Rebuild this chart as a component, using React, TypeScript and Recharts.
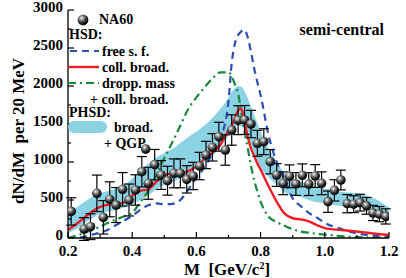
import React from "react";
import { ComposedChart, Area, Line, Scatter, ErrorBar, XAxis, YAxis } from "recharts";

document.body.style.margin = "0";

const FONT = '"Liberation Serif", "Times New Roman", serif';

// theory curves, sampled on a mass grid (GeV/c^2)
const massGrid = [
  0.2, 0.225, 0.25, 0.275, 0.3, 0.325, 0.35, 0.375, 0.4, 0.425, 0.45, 0.475, 0.5, 0.525, 0.55, 0.575, 0.6,
  0.625, 0.65, 0.675, 0.7, 0.71, 0.72, 0.73, 0.74, 0.75, 0.76, 0.77, 0.78, 0.79, 0.8, 0.825, 0.85, 0.875,
  0.9, 0.925, 0.95, 0.975, 1.0, 1.05, 1.1, 1.15, 1.2,
];
// HSD free spectral function
const freeSF = [
  0, 0, 15, 45, 70, 110, 170, 230, 290, 370, 430, 455, 445, 450, 500, 640, 790, 930, 1110, 1310, 1800,
  2300, 2560, 2670, 2720, 2740, 2640, 2450, 2230, 2050, 1880, 1350, 1000, 770, 520, 420, 330, 270, 200,
  120, 60, 30, 15,
];
// HSD collisional broadening
const collBroad = [
  105, 180, 265, 350, 410, 440, 450, 470, 560, 620, 640, 740, 820, 850, 852, 880, 940, 1040, 1120, 1230,
  1420, 1480, 1580, 1680, 1700, 1520, 1330, 1180, 1080, 980, 900, 680, 480, 320, 260, 245, 220, 170, 130,
  105, 85, 60, 40,
];
// HSD dropping mass + coll. broad.
const droppMass = [
  0, 30, 65, 105, 150, 200, 245, 285, 330, 470, 620, 830, 1050, 1260, 1480, 1700, 1850, 1980, 2100, 2180,
  2180, 2130, 2020, 1900, 1650, 1400, 1180, 950, 760, 610, 480, 280, 210, 160, 115, 85, 70, 55, 45, 25,
  12, 5, 0,
];
// PHSD band (broad. + QGP)
const phsdLow = [
  60, 120, 190, 260, 320, 350, 370, 400, 440, 500, 560, 640, 700, 740, 790, 850, 920, 990, 1080, 1200,
  1350, 1410, 1460, 1480, 1470, 1420, 1340, 1230, 1120, 1020, 930, 800, 700, 600, 560, 540, 500, 470,
  460, 420, 410, 330, 240,
];
const phsdHigh = [
  330, 400, 470, 540, 590, 620, 650, 700, 780, 880, 980, 1060, 1120, 1170, 1250, 1330, 1400, 1480, 1580,
  1700, 1850, 1920, 1970, 2000, 1990, 1930, 1840, 1730, 1620, 1510, 1400, 1180, 1000, 850, 790, 740, 700,
  670, 650, 610, 590, 530, 400,
];

// NA60 data
const na60Mass = [
  0.21, 0.23, 0.25, 0.27, 0.29, 0.31, 0.33, 0.35, 0.37, 0.39, 0.41, 0.43, 0.45, 0.47, 0.49, 0.51, 0.53,
  0.55, 0.57, 0.59, 0.61, 0.63, 0.65, 0.67, 0.69, 0.71, 0.73, 0.75, 0.77, 0.79, 0.81, 0.83, 0.85, 0.87,
  0.89, 0.91, 0.93, 0.95, 0.97, 0.99, 1.01, 1.03, 1.05, 1.07, 1.09, 1.11, 1.13, 1.15, 1.17, 1.19,
];
const na60Yield = [
  350, null, 118, 149, 588, 272, 509, 434, 641, 500, 632, 872, 720, 965, 829, 754, 851, 851, 772, 816,
  947, 1092, 1193, 1333, 1158, 1421, 1550, 1553, 1500, 1246, 1267, 1004, 829, 720, 812, 711, 825, 709,
  816, 720, 478, 627, 763, 452, 445, 465, 423, 329, 314, 284,
];
const na60Err = [
  180, 0, 150, 170, 240, 220, 230, 230, 220, 210, 200, 200, 210, 200, 190, 190, 190, 190, 180, 180, 180,
  180, 180, 190, 200, 200, 190, 190, 180, 170, 170, 160, 150, 150, 150, 150, 150, 150, 150, 150, 140, 140,
  130, 120, 110, 110, 110, 100, 100, 100,
];
const strayMass = [0.442];
const strayYield = [1170];

const xTicks = [0.2, 0.3, 0.4, 0.5, 0.6, 0.7, 0.8, 0.9, 1.0, 1.1, 1.2];
const yTicks = [0, 250, 500, 750, 1000, 1250, 1500, 1750, 2000, 2250, 2500, 2750, 3000];

const BLUE = "#2c4fb0";
const RED = "#ee1c25";
const GREEN = "#16893a";
const BAND = "#8ad2e4";

const curves = massGrid.map((m, i) => ({
  m,
  free: freeSF[i],
  coll: collBroad[i],
  dropp: droppMass[i],
  band: [phsdLow[i], phsdHigh[i]],
}));

const points = na60Mass
  .map((m, i) => ({ m, v: na60Yield[i], err: na60Err[i] }))
  .filter((p) => p.v !== null);
const stray = strayMass.map((m, i) => ({ m, v: strayYield[i] }));

const isMajor = (v: number, step: number) => Math.abs(v / step - Math.round(v / step)) < 1e-6;

const txt = { fontFamily: FONT, fontWeight: "bold" as const, fill: "#000" };

function BottomTick({ x, y, payload }: any) {
  const major = isMajor(payload.value, 0.2);
  return (
    <g>
      <line x1={x} x2={x} y1={y} y2={y - (major ? 6 : 3)} stroke="#000" strokeWidth={1.2} />
      {major && (
        <text x={x} y={y + 18} textAnchor="middle" fontSize={15} {...txt}>
          {payload.value.toFixed(1)}
        </text>
      )}
    </g>
  );
}

function TopTick({ x, y, payload }: any) {
  const major = isMajor(payload.value, 0.2);
  return <line x1={x} x2={x} y1={y} y2={y + (major ? 6 : 3)} stroke="#000" strokeWidth={1.2} />;
}

function LeftTick({ x, y, payload }: any) {
  const major = payload.value % 500 === 0;
  return (
    <g>
      <line x1={x} x2={x + (major ? 6 : 3)} y1={y} y2={y} stroke="#000" strokeWidth={1.2} />
      {major && (
        <text x={x - 5} y={y + 2} textAnchor="end" fontSize={15} {...txt}>
          {payload.value}
        </text>
      )}
    </g>
  );
}

function RightTick({ x, y, payload }: any) {
  const major = payload.value % 500 === 0;
  return <line x1={x} x2={x - (major ? 6 : 3)} y1={y} y2={y} stroke="#000" strokeWidth={1.2} />;
}

const Ball = (p: any) => <circle cx={p.cx} cy={p.cy} r={4.8} fill="url(#ball)" />;

export default function App() {
  const axisLine = { stroke: "#000", strokeWidth: 1.3 };
  return (
    <div style={{ position: "relative", width: 406, height: 278, background: "#fff" }}>
      <ComposedChart
        width={406}
        height={278}
        data={curves}
        margin={{ top: 10, right: 17, bottom: 0, left: 0 }}
      >
        <XAxis
          type="number"
          dataKey="m"
          domain={[0.2, 1.2]}
          ticks={xTicks}
          interval={0}
          allowDataOverflow
          height={40}
          axisLine={axisLine}
          tickLine={false}
          tickSize={0}
          tickMargin={0}
          tick={(p: any) => <BottomTick {...p} />}
        />
        <XAxis
          xAxisId="top"
          orientation="top"
          type="number"
          dataKey="m"
          domain={[0.2, 1.2]}
          ticks={xTicks}
          interval={0}
          allowDataOverflow
          height={0}
          axisLine={axisLine}
          tickLine={false}
          tickSize={0}
          tickMargin={0}
          tick={(p: any) => <TopTick {...p} />}
        />
        <YAxis
          type="number"
          domain={[0, 3000]}
          ticks={yTicks}
          interval={0}
          allowDataOverflow
          width={68}
          axisLine={axisLine}
          tickLine={false}
          tickSize={0}
          tickMargin={0}
          tick={(p: any) => <LeftTick {...p} />}
        />
        <YAxis
          yAxisId="right"
          orientation="right"
          type="number"
          domain={[0, 3000]}
          ticks={yTicks}
          interval={0}
          allowDataOverflow
          width={0}
          axisLine={axisLine}
          tickLine={false}
          tickSize={0}
          tickMargin={0}
          tick={(p: any) => <RightTick {...p} />}
        />
        <Area
          type="monotone"
          dataKey="band"
          stroke="none"
          fill={BAND}
          fillOpacity={1}
          isAnimationActive={false}
        />
        <Line
          type="monotone"
          dataKey="dropp"
          stroke={GREEN}
          strokeWidth={2.2}
          strokeDasharray="8 4 2 4"
          dot={false}
          isAnimationActive={false}
        />
        <Line
          type="monotone"
          dataKey="free"
          stroke={BLUE}
          strokeWidth={2.2}
          strokeDasharray="7 5"
          dot={false}
          isAnimationActive={false}
        />
        <Line
          type="monotone"
          dataKey="coll"
          stroke={RED}
          strokeWidth={2.4}
          dot={false}
          isAnimationActive={false}
        />
        <Scatter data={points} dataKey="v" shape={Ball} isAnimationActive={false}>
          <ErrorBar dataKey="err" direction="y" width={5} stroke="#000" strokeWidth={1.2} />
        </Scatter>
        <Scatter data={stray} dataKey="v" shape={Ball} isAnimationActive={false} />
      </ComposedChart>

      <svg
        width={406}
        height={278}
        style={{ position: "absolute", left: 0, top: 0, pointerEvents: "none" }}
      >
        <defs>
          <radialGradient id="ball" cx="0.38" cy="0.32" r="0.7">
            <stop offset="0" stopColor="#ffffff" />
            <stop offset="0.25" stopColor="#9a9a9a" />
            <stop offset="0.65" stopColor="#262626" />
            <stop offset="1" stopColor="#000000" />
          </radialGradient>
        </defs>

        <text
          transform="translate(24,131) rotate(-90)"
          textAnchor="middle"
          fontSize={17}
          style={{ whiteSpace: "pre" }}
          {...txt}
        >
          dN/dM  per 20 MeV
        </text>
        <text x={227} y={275} textAnchor="middle" fontSize={17} style={{ whiteSpace: "pre" }} {...txt}>
          M  [GeV/c<tspan dy={-6} fontSize={10}>2</tspan>
          <tspan dy={6}>]</tspan>
        </text>

        <text x={384} y={35} textAnchor="end" fontSize={16} {...txt}>
          semi-central
        </text>

        <circle cx={83} cy={20} r={5.4} fill="url(#ball)" />
        <text x={99} y={24} fontSize={14} {...txt}>NA60</text>
        <text x={69} y={39} fontSize={14} {...txt}>HSD:</text>
        <line x1={70} x2={99} y1={51} y2={51} stroke={BLUE} strokeWidth={2.2} strokeDasharray="7 5" />
        <text x={102} y={56} fontSize={14} {...txt}>free s. f.</text>
        <line x1={68} x2={99} y1={67} y2={67} stroke={RED} strokeWidth={2.4} />
        <text x={102} y={72} fontSize={14} {...txt}>coll. broad.</text>
        <line x1={68} x2={99} y1={83} y2={83} stroke={GREEN} strokeWidth={2.2} strokeDasharray="8 4 2 4" />
        <text x={102} y={88} fontSize={14} {...txt}>dropp. mass</text>
        <text x={90} y={104} fontSize={14} {...txt}>+ coll. broad.</text>
        <text x={69} y={117} fontSize={14} {...txt}>PHSD:</text>
        <rect x={68} y={121} width={39} height={12} rx={6} fill={BAND} />
        <text x={114} y={132} fontSize={14} {...txt}>broad.</text>
        <text x={104} y={148} fontSize={14} {...txt}>+ QGP</text>
      </svg>
    </div>
  );
}
